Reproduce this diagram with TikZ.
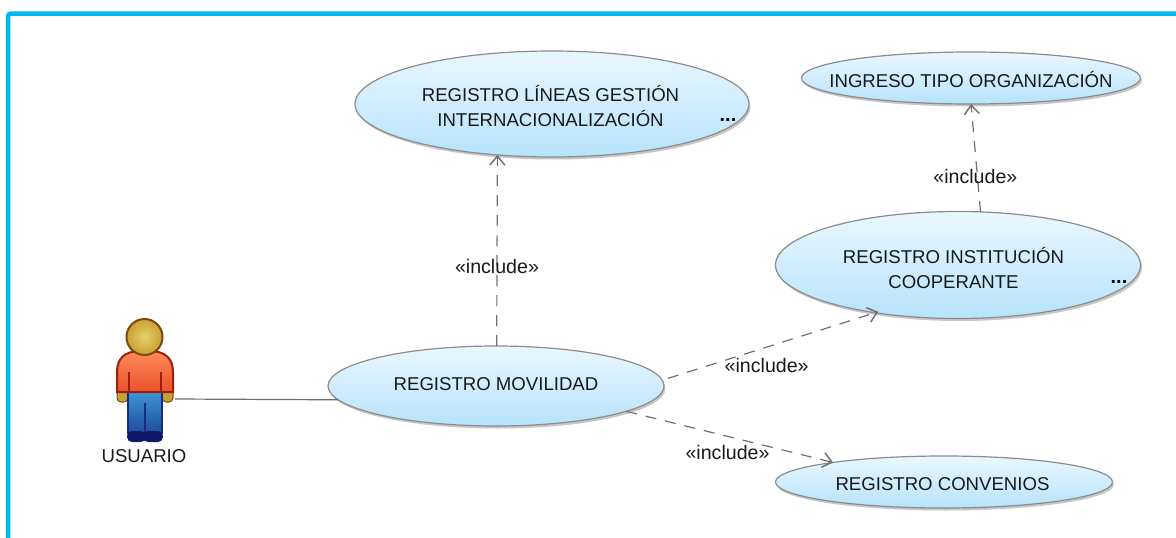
\documentclass[tikz,border=0pt]{standalone}
\usepackage{fontspec}
\setmainfont{Liberation Sans}
\usetikzlibrary{arrows.meta,shapes.geometric,shadows}
\definecolor{frameblue}{HTML}{00B8F0}
\definecolor{caseline}{HTML}{8C8C8C}
\definecolor{casetop}{HTML}{EAF7FE}
\definecolor{casebot}{HTML}{B6E3FC}
\definecolor{depline}{HTML}{707070}
\definecolor{skinin}{HTML}{E6D16A}
\definecolor{skinout}{HTML}{C9A032}
\definecolor{skinline}{HTML}{7A4A12}
\definecolor{shirttop}{HTML}{FF8A5A}
\definecolor{shirtbot}{HTML}{E8512A}
\definecolor{shirtline}{HTML}{A01E10}
\definecolor{legstop}{HTML}{3F9AD6}
\definecolor{legsbot}{HTML}{1C4C9C}
\definecolor{legsline}{HTML}{1A2A80}
\definecolor{feet}{HTML}{10186A}
\tikzset{
  usecase/.style={ellipse, draw=caseline, line width=1.2pt, top color=casetop, bottom color=casebot,
    inner sep=0pt, outer sep=0pt,
    drop shadow={shadow xshift=1.5pt, shadow yshift=-2.5pt, fill=black, opacity=.22}},
  casetext/.style={inner sep=0pt, align=center, text=black!90, font=\fontsize{18.6}{25}\selectfont},
  dep/.style={draw=depline, line width=1.2pt, dashed, dash pattern=on 11pt off 9pt,
    -{Straight Barb[length=9pt,width=15pt,line width=1.5pt]}},
  inc/.style={text=black!90, inner sep=0pt, font=\fontsize{19.6}{22}\selectfont},
  more/.style={inner sep=0pt, font=\fontsize{20}{20}\selectfont\bfseries}
}
\begin{document}
\begin{tikzpicture}[x=1pt,y=-1pt]
\useasboundingbox (0,0) rectangle (1176,538);
\draw[frameblue, line width=4.5pt, rounded corners=3pt] (8,538) -- (8,13.5) -- (1176,13.5);

\node[usecase, minimum width=394pt, minimum height=106pt,
  label={[casetext,xshift=-1.5pt,yshift=-2pt]center:{REGISTRO LÍNEAS GESTIÓN\\INTERNACIONALIZACIÓN}}] (lineas) at (552,104) {};
\node[usecase, minimum width=339pt, minimum height=52pt,
  label={[casetext,yshift=-2pt]center:{INGRESO TIPO ORGANIZACIÓN}}] (ingreso) at (971,78) {};
\node[usecase, minimum width=365pt, minimum height=107pt,
  label={[casetext,xshift=-4.5pt,yshift=-3pt]center:{REGISTRO INSTITUCIÓN\\COOPERANTE}}] (institucion) at (958,265) {};
\node[usecase, minimum width=336pt, minimum height=80pt,
  label={[casetext,yshift=2pt]center:{REGISTRO MOVILIDAD}}] (movilidad) at (496,386) {};
\node[usecase, minimum width=337pt, minimum height=52pt,
  label={[casetext,xshift=-1.5pt,yshift=-2pt]center:{REGISTRO CONVENIOS}}] (convenios) at (944,482) {};
\node[more] (lineasmore) at (728,120) {...};
\node[more] (institucionmore) at (1119,282) {...};

\path[every edge/.style={dep}]
(movilidad.89.7) edge node[inc, pos=.415]{«include»} (lineas.223)
(institucion.67.5) edge node[inc, pos=.33, xshift=-2pt]{«include»} (ingreso.south)
(movilidad.2.3) edge[shorten <=6pt, shorten >=-3pt] node[inc, pos=.49, yshift=-18pt]{«include»} (institucion.210.4)
(movilidad.349.5) edge node[inc, pos=.49, yshift=-16.5pt]{«include»} (convenios.170);

\draw[fill=skinout, draw=skinline, line width=1pt, rounded corners=4pt] (117,388) -- (117,402) -- (128,402) -- (128,388) -- cycle
  (162,388) -- (162,402) -- (173,402) -- (173,388) -- cycle;
\shade[top color=legstop, bottom color=legsbot, draw=legsline, line width=1.5pt]
  (128,390) -- (162,390) -- (162,433) -- (128,433) -- cycle;
\draw[legsline, line width=2pt] (144.5,403) -- (144.5,433);
\fill[feet, rounded corners=5pt] (127,431) rectangle (146,442) (143,431) rectangle (163,442);
\shade[top color=shirttop, bottom color=shirtbot, draw=shirtline, line width=2pt]
  (117,392) -- (117,372) .. controls (117,358) and (125,352) .. (138,351) -- (152,351)
  .. controls (165,352) and (173,358) .. (173,372) -- (173,392) -- cycle;
\draw[shirtline, line width=1.5pt] (129,372) -- (129,392) (161,372) -- (161,392);
\shade[inner color=skinin, outer color=skinout, draw=skinline, line width=2pt]
  (144.5,337) circle (18pt);
\node[casetext] (usuario) at (144,456) {USUARIO};
\coordinate (actor) at (175,399);
\draw[draw=depline, line width=1.2pt] (actor) -- (movilidad.185);
\end{tikzpicture}
\end{document}
